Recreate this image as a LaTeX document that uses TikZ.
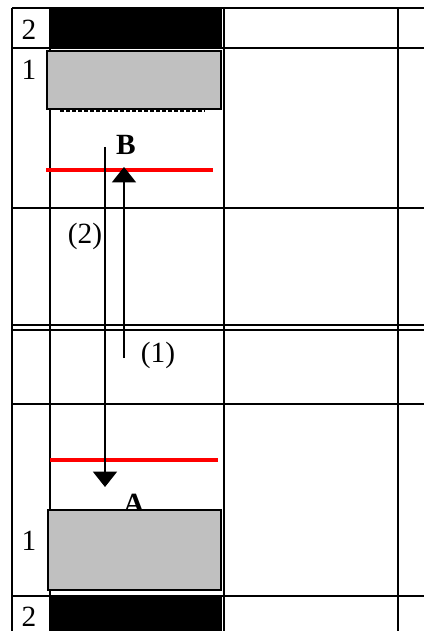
\documentclass[tikz,border=0pt]{standalone}
\usepackage{fontspec}
\setmainfont{Liberation Serif}
\usepackage{xcolor}
\usetikzlibrary{arrows.meta,calc,positioning}

\definecolor{blokgrijs}{RGB}{192,192,192}

\tikzset{
    raster/.style={line width=1.5pt},
    blok/.style={draw=black, line width=1pt, fill=blokgrijs},
    niveau/.style={line width=2.4pt, red},
    pijl/.style={line width=1pt, -{Triangle[width=18pt,length=11.5pt]}},
    tekst/.style={anchor=base, inner sep=0pt, font=\fontsize{22}{26}\selectfont}
}

\begin{document}
\begin{tikzpicture}[x=0.75pt,y=-0.75pt]

    \useasboundingbox (0,0) rectangle (424,631);

    % Zwarte blokken
    \fill[black] (49,9) rectangle (222,48);
    \fill[black] (49,597) rectangle (222,631);

    % Raster
    \foreach \y in {8,48,208,404,596} {
        \draw[raster] (12,\y) -- (424,\y);
    }
    \foreach \y in {325,330} {
        \draw[raster] (12,\y) -- (424,\y);
    }
    \foreach \x in {12,50,224,398} {
        \draw[raster] (\x,8) -- (\x,631);
    }

    % Nummers
    \node[tekst] (n2boven) at (29,40) {2};
    \node[tekst] (n1boven) at (29,80) {1};
    \node[tekst] (n1onder) at (29,550) {1};
    \node[tekst] (n2onder) at (29,626) {2};

    % Letters
    \node[tekst, font=\fontsize{22}{26}\selectfont\bfseries] (B) at (126,155) {B};
    \node[tekst, font=\fontsize{22}{26}\selectfont\bfseries] (A) at (134,513) {A};

    % Grijze blokken
    \draw[blok] (47,51) rectangle (221,109);
    \draw[line width=1.8pt, dash pattern=on 3pt off 1.5pt] (60,111) -- (205,111);
    \draw[blok] (48,510) rectangle (221,590);

    % Rode lijnen
    \draw[niveau] (46,170) -- (213,170);
    \draw[niveau] (50,460) -- (218,460);

    % Pijlen
    \coordinate (start1) at (124,358);
    \coordinate (eind1) at (124,167);
    \coordinate (start2) at (105,147);
    \coordinate (eind2) at (105,487);
    \draw[pijl] (start1) -- (eind1);
    \draw[pijl] (start2) -- (eind2);

    \node[tekst] (lab2) at (85,243) {(2)};
    \node[tekst] (lab1) at (158,362) {(1)};

\end{tikzpicture}
\end{document}
